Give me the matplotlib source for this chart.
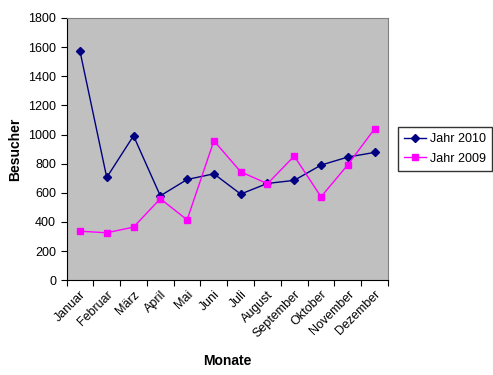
import numpy as np
import matplotlib
matplotlib.use('Agg')
import matplotlib.pyplot as plt

plt.rcParams['font.family'] = ['Liberation Sans', 'DejaVu Sans']

# Daten
monate = ['Januar', 'Februar', 'März', 'April', 'Mai', 'Juni', 'Juli',
          'August', 'September', 'Oktober', 'November', 'Dezember']
jahr_2010 = [1573, 705, 991, 579, 691, 730, 591, 664, 685, 790, 845, 877]
jahr_2009 = [336, 325, 364, 559, 414, 957, 744, 662, 852, 572, 792, 1039]

fig = plt.figure(figsize=(4.93, 3.75), dpi=100)
ax = fig.add_axes([0.135, 0.253, 0.652, 0.699])
ax.set_facecolor('#C0C0C0')

x = np.arange(len(monate))
ax.plot(x, jahr_2010, color='#000080', marker='D', markersize=4, lw=1, label='Jahr 2010')
ax.plot(x, jahr_2009, color='#FF00FF', marker='s', markersize=5, lw=1, label='Jahr 2009')

ax.set_xlim(-0.5, len(monate) - 0.5)
ax.set_ylim(0, 1800)
ax.set_yticks(range(0, 1801, 200))
ax.set_xticks(np.arange(-0.5, len(monate), 1.0))
ax.set_xticklabels([])
ax.set_xticks(x, minor=True)
ax.set_xticklabels(monate, minor=True, rotation=45, ha='right', rotation_mode='anchor', fontsize=9)
ax.tick_params(axis='x', which='minor', length=0, pad=6)
ax.tick_params(axis='x', which='major', length=4, direction='out')
ax.tick_params(axis='y', length=4, direction='out', labelsize=9)

for s in ['top', 'right']:
    ax.spines[s].set_color('#808080')
for s in ['left', 'bottom']:
    ax.spines[s].set_color('black')

ax.set_xlabel('Monate', fontweight='bold', fontsize=10, labelpad=10)
ax.set_ylabel('Besucher', fontweight='bold', fontsize=10, labelpad=4)

leg = ax.legend(loc='center left', bbox_to_anchor=(1.03, 0.5), fontsize=9,
                frameon=True, fancybox=False, edgecolor='black', handlelength=1.8,
                handletextpad=0.3, borderpad=0.5, labelspacing=0.6, borderaxespad=0)
leg.get_frame().set_linewidth(1)

fig.savefig('out.png', dpi=100)
